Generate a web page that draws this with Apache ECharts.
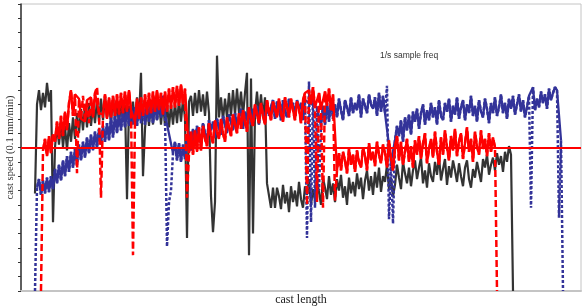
<!DOCTYPE html>
<html>
<head>
<meta charset="utf-8">
<script src="https://cdn.jsdelivr.net/npm/echarts@6/dist/echarts.min.js"></script>
<style>html,body{margin:0;padding:0;background:#fff}#c{width:584px;height:307px}</style>
</head>
<body>
<div id="c"></div>
<script>
// cast length of the first sample of each trace and the spacing between samples
const sampleStep = 2;
const blackFrom = 14;
const blueFrom = 14;
const redFrom = 20;
const targetSpeed = 100;

const blackSpeed = [
68,130,140,126,138,128,145,132,140,48,
100,116,102,118,100,115,98,117,104,121,
106,124,110,127,112,130,114,131,115,129,
117,133,118,134,119,136,121,132,117,135,
120,131,116,133,118,130,64,129,115,132,
117,135,120,152,80,113,131,115,133,116,
135,119,133,116,132,115,131,114,130,116,
131,117,133,118,134,120,37,132,136,122,
138,124,140,125,137,122,139,124,66,41,
62,164,121,135,119,134,121,138,122,140,
123,141,124,139,122,138,152,25,148,40,
124,139,122,137,121,135,75,74,58,72,
58,72,66,57,74,61,69,55,73,62,
70,59,76,64,58,73,67,78,60,71,
63,77,69,60,79,72,64,80,67,75,
62,78,70,81,65,73,60,79,68,76,
66,82,71,79,64,77,84,70,80,67,
83,72,86,69,80,76,88,71,79,66,
74,88,79,71,90,82,75,86,73,84,
91,78,86,93,75,84,72,89,80,76,
90,81,94,77,85,92,74,87,79,91,
84,76,89,80,73,86,91,78,72,85,
79,90,83,76,92,86,95,81,88,93,
84,96,88,94,83,97,90,101,95,0
];

const redSpeed = [
0,98,106,94,108,96,109,104,118,106,
122,108,125,112,131,140,122,137,82,134,
120,136,118,133,117,135,121,138,142,124,
65,123,137,120,135,121,136,122,137,123,
138,124,139,125,140,126,25,118,134,120,
135,122,137,123,138,124,139,125,140,126,
138,123,139,125,141,127,142,128,143,129,
144,130,141,65,96,111,95,112,97,114,
98,115,106,101,117,108,103,119,111,106,
120,110,104,121,114,108,123,116,110,124,
113,126,118,111,128,120,115,130,123,117,
131,122,116,133,125,119,132,127,121,134,
124,118,135,128,121,134,126,119,132,127,
117,133,138,60,140,130,142,128,62,138,
127,58,139,129,141,126,137,63,84,96,
84,97,91,82,99,88,95,83,98,90,
86,100,94,84,103,91,97,87,104,95,
89,102,96,86,105,93,84,100,108,91,
104,88,97,106,90,101,86,105,95,108,
92,103,110,89,99,106,93,111,97,88,
107,95,112,100,91,108,98,113,94,104,
110,92,103,114,97,106,90,111,101,95,
112,99,106,94,110,97,107,100,0
];

const blueSpeed = [
0,72,78,67,77,68,79,69,80,71,
85,75,88,77,91,80,94,83,97,86,
99,88,102,91,104,93,107,96,109,98,
111,100,113,102,115,104,117,105,121,107,
123,110,124,112,126,114,127,115,129,116,
128,115,130,117,129,116,131,118,130,117,
132,119,133,121,136,123,31,62,70,96,
104,91,103,90,102,92,106,111,98,113,
101,115,108,103,117,110,105,119,112,118,
107,120,114,109,122,116,110,123,118,112,
124,115,121,127,113,125,119,128,116,127,
121,129,116,130,124,119,131,122,128,133,
120,132,127,119,133,125,121,134,128,131,
122,133,127,131,119,133,37,146,48,140,
58,128,70,115,129,116,131,118,133,120,
130,121,134,126,119,133,128,122,135,124,
131,126,137,121,134,129,124,137,130,127,
135,122,138,125,136,124,143,50,90,47,
105,115,108,119,104,121,112,123,109,125,
118,127,113,124,130,116,126,119,131,121,
128,116,133,122,119,131,125,134,118,129,
123,135,120,128,133,119,130,124,136,122,
129,118,133,125,121,134,127,117,131,124,
135,122,128,137,124,131,120,134,127,136,
123,130,137,125,133,121,128,136,58,142,
126,134,128,139,131,137,127,141,133,138,
142,140,51,105,0
];

function toPairs(from, ys) { return ys.map((v, i) => [from + sampleStep * i, v]); }

// samples that sit on the running level (not on a sudden drop/spike): drawn as a solid trace
function steadyPart(pairs) {
  return pairs.filter((p, i) => {
    const w = pairs.slice(Math.max(0, i - 3), i + 4).map(q => q[1]).sort((a, b) => a - b);
    const m = w.length % 2 ? w[(w.length - 1) / 2] : (w[w.length / 2 - 1] + w[w.length / 2]) / 2;
    return Math.abs(p[1] - m) < 16;
  });
}

const blackData = toPairs(blackFrom, blackSpeed);
const blueData = toPairs(blueFrom, blueSpeed);
const redData = toPairs(redFrom, redSpeed);

const chart = echarts.init(document.getElementById('c'), null, {renderer: 'canvas'});
chart.setOption({
  animation: false,
  backgroundColor: '#fff',
  grid: {left: 21, right: 3, top: 4, bottom: 16, show: true, borderColor: '#c4c4c4', borderWidth: 1,
         containLabel: false, outerBoundsMode: 'none'},
  xAxis: {
    type: 'value', min: 0, max: 560,
    name: 'cast length', nameLocation: 'middle', nameGap: 3,
    nameTextStyle: {fontFamily: 'Liberation Serif', fontSize: 12, color: '#222'},
    axisLine: {show: true, lineStyle: {color: '#c4c4c4', width: 2}},
    axisTick: {show: false}, axisLabel: {show: false}, splitLine: {show: false}
  },
  yAxis: {
    type: 'value', min: 0, max: 200, interval: 10,
    name: 'cast speed (0.1 mm/min)', nameLocation: 'middle', nameGap: 5,
    nameTextStyle: {fontFamily: 'Liberation Serif', fontSize: 10.5, color: '#333'},
    axisLine: {show: true, lineStyle: {color: '#333', width: 1.5}},
    axisTick: {show: true, inside: false, length: 3, lineStyle: {color: '#333', width: 1}},
    axisLabel: {show: false}, splitLine: {show: false}
  },
  graphic: [{
    type: 'text', left: 380, top: 51,
    style: {text: '1/s sample freq', fontFamily: 'Liberation Sans', fontSize: 8.5, fill: '#333'}
  }],
  series: [
    {type: 'line', data: blackData, symbol: 'none',
     lineStyle: {color: '#333333', width: 2.2}, z: 2},
    {type: 'line', data: blueData, symbol: 'none',
     lineStyle: {color: '#333399', width: 2.5, type: [3, 2]}, z: 3},
    {type: 'line', data: steadyPart(blueData), symbol: 'none',
     lineStyle: {color: '#333399', width: 2.3}, z: 3},
    {type: 'line', data: redData, symbol: 'none',
     lineStyle: {color: '#ff0000', width: 2.5, type: [7, 3]}, z: 4},
    {type: 'line', data: steadyPart(redData), symbol: 'none',
     lineStyle: {color: '#ff0000', width: 2.3}, z: 4,
     markLine: {silent: true, symbol: 'none', label: {show: false},
       lineStyle: {color: '#ff0000', width: 2, type: 'solid'},
       data: [{yAxis: targetSpeed}]}}
  ]
});
</script>
</body>
</html>
